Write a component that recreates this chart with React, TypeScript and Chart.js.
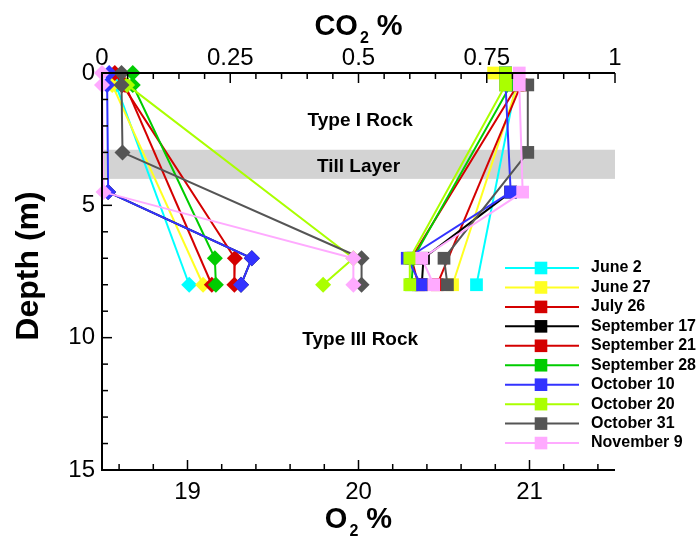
import React, { useEffect, useRef } from 'react';
import { Chart, registerables } from 'chart.js';

Chart.register(...registerables);

// ---------- data ----------
const SERIES_LABELS = [
  'June 2', 'June 27', 'July 26', 'September 17', 'September 21',
  'September 28', 'October 10', 'October 20', 'October 31', 'November 9',
];
const SERIES_COLORS = [
  '#00ffff', '#ffff22', '#d40000', '#000000', '#d40000',
  '#00cc00', '#3333ff', '#aaff00', '#555555', '#ffaaff',
];

// O2 profiles (bottom axis), depth in m
const O2_DEPTHS = [
  [0.45, 8],
  [0, 0.45, 8],
  [0.45, 8],
  [4.5, 7, 8],
  [0.45, 7, 8],
  [0, 0.45, 7, 8],
  [0, 0.45, 4.5, 7, 8],
  [0, 0.45, 7, 8],
  [0.45, 3, 7, 8],
  [0, 0.45, 4.5, 7, 8],
];
const O2_VALUES = [
  [20.92, 20.69],
  [20.79, 20.93, 20.55],
  [20.95, 20.46],
  [20.89, 20.38, 20.37],
  [20.93, 20.31, 20.35],
  [20.86, 20.89, 20.32, 20.31],
  [20.86, 20.86, 20.89, 20.285, 20.365],
  [20.86, 20.86, 20.30, 20.30],
  [20.99, 20.99, 20.50, 20.52],
  [20.94, 20.94, 20.96, 20.37, 20.44],
];

// CO2 profiles (top axis), depth in m
const CO2_DEPTHS = [
  [0.45, 8],
  [0.45, 8],
  [0.45, 8],
  [4.5, 7, 8],
  [0, 0.45, 7, 8],
  [0, 0.45, 7, 8],
  [0, 0.45, 4.5, 7, 8],
  [0.45, 7, 8],
  [0, 0.45, 3, 7, 8],
  [0, 0.45, 4.5, 7, 8],
];
const CO2_VALUES = [
  [0.027, 0.170],
  [0.02, 0.197],
  [0.045, 0.214],
  [0.012, 0.292, 0.271],
  [0.025, 0.04, 0.259, 0.258],
  [0.06, 0.06, 0.22, 0.222],
  [0.014, 0.01, 0.012, 0.292, 0.271],
  [0.049, 0.49, 0.431],
  [0.038, 0.038, 0.04, 0.506, 0.506],
  [0.0, 0.0, 0.003, 0.49, 0.49],
];

const O2_TICKS = [19, 20, 21];
const CO2_TICKS = [0, 0.25, 0.5, 0.75, 1];
const DEPTH_TICKS = [0, 5, 10, 15];

const TILL_TOP = 2.9;
const TILL_BOTTOM = 4.0;
const ZONE_LABELS = ['Type I Rock', 'Till Layer', 'Type III Rock'];
const ZONE_O2 = [20.01, 20.0, 20.01];
const ZONE_DEPTH = [1.8, 3.55, 10.08];

// ---------- styling ----------
const FONT = "'Liberation Sans', Arial, Helvetica, sans-serif";

function drawSubTitle(ctx: CanvasRenderingContext2D, main: string, sub: string, tail: string, cx: number, baseY: number) {
  const big = `bold 29px ${FONT}`;
  const small = `bold 16px ${FONT}`;
  ctx.font = big;
  const w1 = ctx.measureText(main).width;
  const w3 = ctx.measureText(tail).width;
  ctx.font = small;
  const w2 = ctx.measureText(sub).width + 2;
  let x = cx - (w1 + w2 + w3) / 2;
  ctx.textAlign = 'left';
  ctx.textBaseline = 'alphabetic';
  ctx.font = big;
  ctx.fillText(main, x, baseY);
  x += w1 + 2;
  ctx.font = small;
  ctx.fillText(sub, x, baseY + 8);
  x += w2 - 2;
  ctx.font = big;
  ctx.fillText(tail, x, baseY);
}

function drawTicks(ctx: CanvasRenderingContext2D, scale: any, step: number, major: number, side: string, a: any) {
  const kMin = Math.ceil(scale.min / step - 1e-6);
  const kMax = Math.floor(scale.max / step + 1e-6);
  for (let k = kMin; k <= kMax; k++) {
    const v = k * step;
    const isMajor = Math.abs(v / major - Math.round(v / major)) < 1e-6;
    const len = isMajor ? 10 : 6;
    const p = scale.getPixelForValue(v);
    ctx.beginPath();
    if (side === 'top') { ctx.moveTo(p, a.top); ctx.lineTo(p, a.top + len); }
    else if (side === 'bottom') { ctx.moveTo(p, a.bottom); ctx.lineTo(p, a.bottom - len); }
    else { ctx.moveTo(a.left, p); ctx.lineTo(a.left + len, p); }
    ctx.stroke();
  }
}

const overlayPlugin = {
  id: 'overlay',
  beforeDatasetsDraw(chart: any) {
    const { ctx, chartArea: a, scales } = chart;
    const t = scales.y.getPixelForValue(TILL_TOP);
    const b = scales.y.getPixelForValue(TILL_BOTTOM);
    ctx.save();
    ctx.fillStyle = '#d3d3d3';
    ctx.fillRect(a.left, t, a.right - a.left, b - t);
    ctx.restore();
  },
  afterDatasetsDraw(chart: any) {
    const { ctx, chartArea: a, scales } = chart;
    ctx.save();
    // zone labels
    ctx.fillStyle = '#000';
    ctx.font = `bold 19px ${FONT}`;
    ctx.textAlign = 'center';
    ctx.textBaseline = 'middle';
    ZONE_LABELS.forEach((txt, i) => {
      ctx.fillText(txt, scales.x.getPixelForValue(ZONE_O2[i]), scales.y.getPixelForValue(ZONE_DEPTH[i]));
    });

    // axis lines
    ctx.strokeStyle = '#000';
    ctx.lineWidth = 2;
    ctx.beginPath();
    ctx.moveTo(a.left, a.top); ctx.lineTo(a.right, a.top);
    ctx.moveTo(a.left, a.bottom); ctx.lineTo(a.right, a.bottom);
    ctx.moveTo(a.left, a.top - 1); ctx.lineTo(a.left, a.bottom + 1);
    ctx.stroke();
    ctx.lineWidth = 1.5;
    drawTicks(ctx, scales.x2, 0.05, 0.25, 'top', a);
    drawTicks(ctx, scales.x, 0.2, 1, 'bottom', a);
    drawTicks(ctx, scales.y, 1, 5, 'left', a);

    // axis titles
    ctx.fillStyle = '#000';
    const cx = (a.left + a.right) / 2;
    drawSubTitle(ctx, 'CO', '2', ' %', cx, 35);
    drawSubTitle(ctx, 'O', '2', ' %', cx, 528);
    ctx.save();
    ctx.translate(38, 266);
    ctx.rotate(-Math.PI / 2);
    ctx.font = `bold 32px ${FONT}`;
    ctx.textAlign = 'center';
    ctx.textBaseline = 'alphabetic';
    ctx.fillText('Depth (m)', 0, 0);
    ctx.restore();

    // legend
    const x1 = 505, x2 = 579, xm = 541, xt = 591, y0 = 268, dy = 19.45;
    ctx.font = `bold 16px ${FONT}`;
    ctx.textAlign = 'left';
    ctx.textBaseline = 'middle';
    SERIES_LABELS.forEach((label, i) => {
      const y = y0 + i * dy;
      const c = SERIES_COLORS[i];
      ctx.strokeStyle = c;
      ctx.lineWidth = 2;
      ctx.beginPath();
      ctx.moveTo(x1, y); ctx.lineTo(x2, y);
      ctx.stroke();
      ctx.fillStyle = c;
      ctx.fillRect(xm - 6.3, y - 6.3, 12.6, 12.6);
      ctx.fillStyle = '#000';
      ctx.fillText(label, xt, y);
    });
    ctx.restore();
  },
};

export default function App() {
  const ref = useRef<HTMLCanvasElement>(null);

  useEffect(() => {
    if (!ref.current) return;
    const datasets: any[] = [];
    SERIES_LABELS.forEach((label, i) => {
      const color = SERIES_COLORS[i];
      const order = SERIES_LABELS.length - i;
      datasets.push({
        label: label + ' O2',
        xAxisID: 'x',
        yAxisID: 'y',
        data: O2_DEPTHS[i].map((d, k) => ({ x: O2_VALUES[i][k], y: d })),
        borderColor: color,
        backgroundColor: color,
        borderWidth: 2,
        pointStyle: 'rect',
        pointRadius: 9,
        pointBorderWidth: 0,
        pointBackgroundColor: color,
        showLine: true,
        tension: 0,
        clip: false,
        order,
      });
      datasets.push({
        label: label + ' CO2',
        xAxisID: 'x2',
        yAxisID: 'y',
        data: CO2_DEPTHS[i].map((d, k) => ({ x: CO2_VALUES[i][k], y: d })),
        borderColor: color,
        backgroundColor: color,
        borderWidth: 2,
        pointStyle: 'rectRot',
        pointRadius: 8,
        pointBorderWidth: 0,
        pointBackgroundColor: color,
        showLine: true,
        tension: 0,
        clip: false,
        order,
      });
    });

    const tickFont = { family: FONT, size: 24 };
    const chart = new Chart(ref.current, {
      type: 'scatter',
      data: { datasets },
      options: {
        animation: false,
        responsive: false,
        events: [],
        layout: { padding: { left: 0, right: 84, top: 0, bottom: 0 }, autoPadding: false },
        plugins: { legend: { display: false }, tooltip: { enabled: false } },
        scales: {
          x: {
            type: 'linear',
            position: 'bottom',
            min: 18.5,
            max: 21.5,
            grid: { display: false, drawTicks: false },
            border: { display: false },
            afterBuildTicks: (s: any) => { s.ticks = O2_TICKS.map((v) => ({ value: v })); },
            afterFit: (s: any) => { s.height = 67; },
            ticks: { font: tickFont, color: '#000', padding: 8, autoSkip: false, maxRotation: 0, callback: (v: any) => String(v) },
          },
          x2: {
            type: 'linear',
            position: 'top',
            min: 0,
            max: 1,
            grid: { display: false, drawTicks: false },
            border: { display: false },
            afterBuildTicks: (s: any) => { s.ticks = CO2_TICKS.map((v) => ({ value: v })); },
            afterFit: (s: any) => { s.height = 73; },
            ticks: { font: tickFont, color: '#000', padding: 0, autoSkip: false, maxRotation: 0, callback: (v: any) => String(v) },
          },
          y: {
            type: 'linear',
            position: 'left',
            reverse: true,
            min: 0,
            max: 15,
            grid: { display: false, drawTicks: false },
            border: { display: false },
            afterBuildTicks: (s: any) => { s.ticks = DEPTH_TICKS.map((v) => ({ value: v })); },
            afterFit: (s: any) => { s.width = 102; },
            ticks: { font: tickFont, color: '#000', padding: 7, autoSkip: false, callback: (v: any) => String(v) },
          },
        },
      } as any,
      plugins: [overlayPlugin],
    });
    return () => chart.destroy();
  }, []);

  return (
    <div style={{ position: 'fixed', left: 0, top: 0, width: 699, height: 537, background: '#fff' }}>
      <canvas ref={ref} width={699} height={537} style={{ display: 'block', width: 699, height: 537 }} />
    </div>
  );
}
